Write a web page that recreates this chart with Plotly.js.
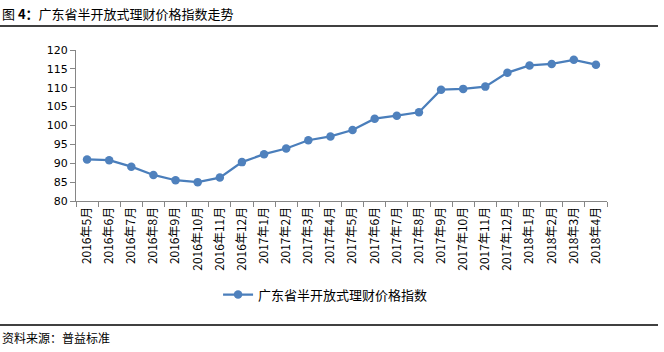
<!DOCTYPE html>
<html><head><meta charset="utf-8">
<script src="https://cdn.plot.ly/plotly-3.0.1.min.js"></script>
<style>html,body{margin:0;padding:0;background:#fff;}#chart{width:664px;height:352px;}</style>
</head><body><div id="chart"></div>
<script>
const months = ["2016年5月","2016年6月","2016年7月","2016年8月","2016年9月","2016年10月","2016年11月","2016年12月",
"2017年1月","2017年2月","2017年3月","2017年4月","2017年5月","2017年6月","2017年7月","2017年8月","2017年9月","2017年10月","2017年11月","2017年12月",
"2018年1月","2018年2月","2018年3月","2018年4月"];
const indexValues = [91.0,90.8,89.1,86.9,85.5,85.0,86.2,90.3,92.4,93.9,96.1,97.1,98.8,101.8,102.6,103.5,109.5,109.7,110.3,114.0,115.9,116.3,117.4,116.1];
const seriesName = "广东省半开放式理财价格指数";
const yTicks = [80,85,90,95,100,105,110,115,120];

const cjk = '"Noto Sans CJK SC", "DejaVu Sans", sans-serif';
const trace = {
  x: months, y: indexValues, name: seriesName, type: 'scatter', mode: 'lines+markers',
  line: {color: '#4A7EBB', width: 2.25},
  marker: {color: '#4F81BD', size: 8.5}
};
const layout = {
  width: 664, height: 352,
  margin: {l: 76, r: 57, t: 50, b: 151},
  paper_bgcolor: '#fff', plot_bgcolor: '#fff',
  showlegend: true,
  legend: {orientation: 'h', x: 0.47, xanchor: 'center', y: -0.62, yanchor: 'middle',
    font: {family: cjk, size: 13, color: '#000'}},
  xaxis: {type: 'category', tickson: 'boundaries', ticks: 'outside', ticklen: 5, tickcolor: '#868686',
    showline: true, linecolor: '#868686', linewidth: 1, showgrid: false, tickangle: -90,
    tickfont: {family: cjk, size: 12, color: '#000'}, range: [-0.5, 23.5]},
  yaxis: {range: [80, 120], tickvals: yTicks, ticks: 'outside', ticklen: 5, tickcolor: '#868686',
    showline: true, linecolor: '#868686', linewidth: 1, showgrid: false, zeroline: false,
    tickfont: {family: '"DejaVu Sans", sans-serif', size: 11, color: '#000'}},
  shapes: [
    {type: 'line', xref: 'paper', yref: 'paper', x0: -76/531, x1: (664-6-76)/531, y0: 1 + 24/151, y1: 1 + 24/151,
      line: {color: '#000', width: 1.5}},
    {type: 'line', xref: 'paper', yref: 'paper', x0: -76/531, x1: (664-6-76)/531, y0: -(325-201)/151, y1: -(325-201)/151,
      line: {color: '#000', width: 1.5}}
  ],
  annotations: [
    {xref: 'paper', yref: 'paper', x: -76/531, y: 1 + 37/151, xanchor: 'left', yanchor: 'middle', showarrow: false,
      text: '图 <b>4：</b>广东省半开放式理财价格指数走势',
      font: {family: cjk, size: 13, color: '#000'}},
    {xref: 'paper', yref: 'paper', x: -76/531, y: -(337-201)/151, xanchor: 'left', yanchor: 'middle', showarrow: false,
      text: '资料来源：普益标准', font: {family: cjk, size: 12, color: '#000'}}
  ]
};
Plotly.newPlot('chart', [trace], layout, {displayModeBar: false, staticPlot: true});
</script></body></html>
